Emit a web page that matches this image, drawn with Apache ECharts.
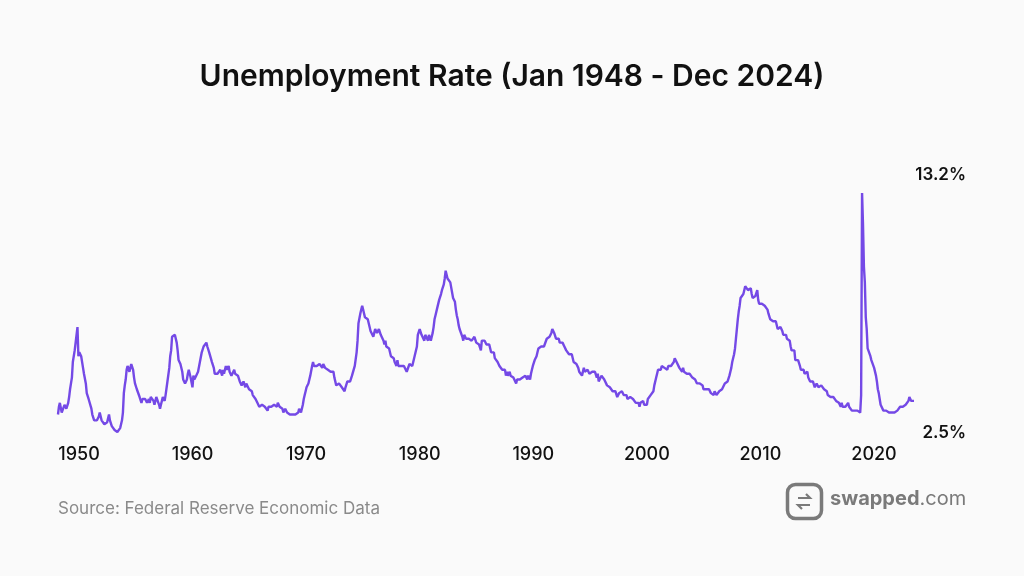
<!DOCTYPE html>
<html>
<head>
<meta charset="utf-8">
<script src="https://cdn.jsdelivr.net/npm/echarts@6/dist/echarts.min.js"></script>
<style>
html,body{margin:0;padding:0;background:#fafafa;}
#c{width:1024px;height:576px;}
</style>
</head>
<body>
<div id="c"></div>
<script>
// Monthly US unemployment rate (%), Jan 1948 - Dec 2024
const startYear = 1948;
const endYear = 2024;
const rates = [
3.4,3.8,4.0,3.9,3.5,3.6,3.6,3.9,3.8,3.7,3.8,4.0,
4.3,4.7,5.0,5.3,6.1,6.2,6.7,6.8,6.6,7.9,6.4,6.6,
6.5,6.4,6.3,5.8,5.5,5.4,5.0,4.5,4.4,4.2,4.2,4.3,
3.7,3.4,3.4,3.1,3.0,3.2,3.1,3.1,3.3,3.5,3.5,3.1,
3.2,3.1,2.9,2.9,3.0,3.0,3.2,3.4,3.1,3.0,2.8,2.7,
2.9,2.6,2.6,2.7,2.5,2.5,2.6,2.7,2.9,3.1,3.5,4.5,
4.9,5.2,5.7,5.9,5.9,5.6,5.8,6.0,6.1,5.7,5.3,5.0,
4.9,4.7,4.6,4.7,4.3,4.2,4.0,4.2,4.1,4.3,4.2,4.2,
4.0,3.9,4.2,4.0,4.3,4.3,4.4,4.1,3.9,3.9,4.3,4.2,
4.2,3.9,3.7,3.9,4.1,4.3,4.2,4.1,4.4,4.5,5.1,5.2,
5.8,6.4,6.7,7.4,7.4,7.3,7.5,7.4,7.1,6.7,6.2,6.2,
6.0,5.9,5.6,5.2,5.1,5.0,5.1,5.2,5.5,5.7,5.8,5.3,
5.2,4.8,5.4,5.2,5.1,5.4,5.5,5.6,5.5,6.1,6.1,6.6,
6.6,6.9,6.9,7.0,7.1,6.9,7.0,6.6,6.7,6.5,6.1,6.0,
5.8,5.5,5.6,5.6,5.5,5.5,5.4,5.7,5.6,5.4,5.7,5.5,
5.7,5.9,5.7,5.7,5.9,5.6,5.6,5.4,5.5,5.5,5.7,5.5,
5.6,5.4,5.4,5.3,5.1,5.2,4.9,5.0,5.1,5.1,4.8,5.0,
4.9,5.1,4.7,4.8,4.6,4.6,4.4,4.4,4.3,4.2,4.1,4.0,
4.0,3.8,3.8,3.8,3.9,3.8,3.8,3.8,3.7,3.7,3.6,3.8,
3.9,3.8,3.8,3.8,3.8,3.9,3.8,3.8,3.8,4.0,3.9,3.8,
3.7,3.8,3.7,3.5,3.5,3.7,3.7,3.5,3.4,3.4,3.4,3.4,
3.4,3.4,3.4,3.4,3.4,3.5,3.5,3.5,3.7,3.7,3.5,3.5,
3.9,4.2,4.4,4.6,4.8,4.9,5.0,5.1,5.4,5.5,5.9,6.1,
5.9,5.9,6.0,5.9,5.9,5.9,6.0,6.1,6.0,5.8,6.0,6.0,
5.8,5.7,5.8,5.7,5.7,5.7,5.6,5.6,5.5,5.6,5.3,5.2,
4.9,5.0,4.9,5.0,4.9,4.9,4.8,4.8,4.8,4.6,4.8,4.9,
5.1,5.2,5.1,5.1,5.1,5.4,5.5,5.5,5.9,6.0,6.6,7.2,
8.1,8.1,8.6,8.8,9.0,8.8,8.6,8.4,8.4,8.4,8.3,8.2,
7.9,7.7,7.6,7.7,7.4,7.6,7.8,7.8,7.6,7.7,7.8,7.8,
7.5,7.6,7.4,7.2,7.0,7.2,6.9,7.0,6.8,6.8,6.8,6.4,
6.4,6.3,6.3,6.1,6.0,5.9,6.2,5.9,6.0,5.8,5.9,6.0,
5.9,5.9,5.8,5.8,5.6,5.7,5.7,6.0,5.9,6.0,5.9,6.0,
6.3,6.3,6.3,6.9,7.5,7.6,7.8,7.7,7.5,7.5,7.5,7.2,
7.5,7.4,7.4,7.2,7.5,7.5,7.2,7.4,7.6,7.9,8.3,8.5,
8.6,8.9,9.0,9.3,9.4,9.6,9.8,9.8,10.1,10.4,10.8,10.8,
10.4,10.4,10.3,10.2,10.1,10.1,9.4,9.5,9.2,8.8,8.5,8.3,
8.0,7.8,7.8,7.7,7.4,7.2,7.5,7.5,7.3,7.4,7.2,7.3,
7.3,7.2,7.2,7.3,7.2,7.4,7.4,7.1,7.1,7.1,7.0,7.0,
6.7,7.2,7.2,7.1,7.2,7.2,7.0,6.9,7.0,7.0,6.9,6.6,
6.6,6.6,6.6,6.3,6.3,6.2,6.1,6.0,5.9,6.0,5.8,5.7,
5.7,5.7,5.7,5.4,5.6,5.4,5.4,5.6,5.4,5.4,5.3,5.3,
5.4,5.2,5.0,5.2,5.2,5.3,5.2,5.2,5.3,5.3,5.4,5.4,
5.4,5.3,5.2,5.4,5.4,5.2,5.5,5.7,5.9,5.9,6.2,6.3,
6.4,6.6,6.8,6.7,6.9,6.9,6.8,6.9,6.9,7.0,7.0,7.3,
7.3,7.4,7.4,7.4,7.6,7.8,7.7,7.6,7.6,7.3,7.4,7.4,
7.3,7.1,7.0,7.1,7.1,7.0,6.9,6.8,6.7,6.8,6.6,6.5,
6.6,6.6,6.5,6.4,6.1,6.1,6.1,6.0,5.9,5.8,5.6,5.5,
5.6,5.4,5.4,5.8,5.6,5.6,5.7,5.7,5.6,5.5,5.6,5.6,
5.6,5.5,5.5,5.6,5.6,5.3,5.5,5.1,5.2,5.2,5.4,5.4,
5.3,5.2,5.2,5.1,4.9,5.0,4.9,4.8,4.9,4.7,4.6,4.7,
4.6,4.6,4.7,4.3,4.4,4.5,4.5,4.5,4.6,4.5,4.4,4.4,
4.3,4.4,4.2,4.3,4.2,4.3,4.3,4.2,4.2,4.1,4.1,4.0,
4.0,4.1,4.0,3.8,4.0,4.0,4.0,4.1,3.9,3.9,3.9,3.9,
4.2,4.2,4.3,4.4,4.3,4.5,4.6,4.9,5.0,5.3,5.5,5.7,
5.7,5.7,5.7,5.9,5.8,5.8,5.8,5.7,5.7,5.7,5.9,6.0,
5.8,5.9,5.9,6.0,6.1,6.3,6.2,6.1,6.1,6.0,5.8,5.7,
5.7,5.6,5.8,5.6,5.6,5.6,5.5,5.4,5.4,5.5,5.4,5.4,
5.3,5.4,5.2,5.2,5.1,5.0,5.0,4.9,5.0,5.0,5.0,4.9,
4.7,4.8,4.7,4.7,4.6,4.6,4.7,4.7,4.5,4.4,4.5,4.4,
4.6,4.5,4.4,4.5,4.4,4.6,4.7,4.6,4.7,4.7,4.7,5.0,
5.0,4.9,5.1,5.0,5.4,5.6,5.8,6.1,6.1,6.5,6.8,7.3,
7.8,8.3,8.7,9.0,9.4,9.5,9.5,9.6,9.8,10.0,9.9,9.9,
9.8,9.8,9.9,9.9,9.6,9.4,9.4,9.5,9.5,9.4,9.8,9.3,
9.1,9.0,9.0,9.1,9.0,9.1,9.0,9.0,9.0,8.8,8.6,8.5,
8.3,8.3,8.2,8.2,8.2,8.2,8.2,8.1,7.8,7.8,7.7,7.9,
8.0,7.7,7.5,7.6,7.5,7.5,7.3,7.2,7.2,7.2,6.9,6.7,
6.6,6.7,6.7,6.2,6.3,6.1,6.2,6.1,5.9,5.7,5.8,5.6,
5.7,5.5,5.4,5.4,5.6,5.3,5.2,5.1,5.0,5.0,5.1,5.0,
4.8,4.9,5.0,5.1,4.8,4.9,4.8,4.9,5.0,4.9,4.7,4.7,
4.7,4.6,4.4,4.4,4.4,4.3,4.3,4.4,4.3,4.2,4.2,4.1,
4.0,4.1,4.0,4.0,3.8,4.0,3.8,3.8,3.7,3.8,3.8,3.9,
4.0,3.8,3.8,3.7,3.6,3.6,3.7,3.6,3.5,3.6,3.6,3.6,
3.6,3.5,4.4,14.8,13.2,11.0,10.2,8.4,7.8,6.8,6.7,6.7,
6.4,6.2,6.1,6.1,5.8,5.9,5.4,5.1,4.7,4.5,4.2,3.9,
4.0,3.8,3.6,3.7,3.6,3.6,3.5,3.6,3.5,3.6,3.6,3.5,
3.5,3.6,3.5,3.4,3.6,3.6,3.5,3.7,3.8,3.9,3.7,3.8,
3.7,3.9,3.9,3.9,4.0,4.1,4.3,4.2,4.1,4.1,4.2,4.1
];
const decadeLabels = ['1950','1960','1970','1980','1990','2000','2010','2020'];
const edgeLabels = ['13.2%', '2.5%'];
const titleText = 'Unemployment Rate (Jan 1948 - Dec 2024)';
const sourceText = 'Source: Federal Reserve Economic Data';

const months = [];
for (let y = startYear; y <= endYear; y++) {
  for (let m = 1; m <= 12; m++) months.push(y + '-' + (m < 10 ? '0' + m : m));
}

const chart = echarts.init(document.getElementById('c'), null, {renderer: 'canvas'});
const FONT = 'Inter, "Noto Sans", sans-serif';
const lineColor = '#7449E6';

chart.setOption({
  backgroundColor: '#fafafa',
  animation: false,
  title: {
    text: titleText,
    left: 'center',
    top: 57,
    textStyle: {fontFamily: FONT, fontSize: 30, fontWeight: 600, color: '#111111'}
  },
  grid: [
    {left: 58, right: 110, top: 193, bottom: 144},
    {left: 79, right: 150, top: 193, bottom: 144}
  ],
  xAxis: [
    {type: 'category', gridIndex: 0, data: months, boundaryGap: false, show: false},
    {type: 'category', gridIndex: 1, data: decadeLabels, boundaryGap: false,
     axisLine: {show: false}, axisTick: {show: false}, splitLine: {show: false},
     axisLabel: {interval: 0, margin: 14, fontFamily: FONT, fontSize: 18, fontWeight: 500, color: '#111111'}}
  ],
  yAxis: [
    {type: 'value', gridIndex: 0, min: 2.5, max: 14.8, show: false},
    {type: 'value', gridIndex: 1, min: 0, max: 1, show: false}
  ],
  series: [{
    type: 'line',
    xAxisIndex: 0, yAxisIndex: 0,
    data: rates,
    showSymbol: false,
    symbol: 'none',
    lineStyle: {color: lineColor, width: 2.4},
    itemStyle: {color: lineColor}
  }],
  graphic: [
    {type: 'text', right: 1024 - 966, top: 166,
     style: {text: edgeLabels[0], fontFamily: FONT, fontSize: 17, fontWeight: 600, fill: '#111111'}},
    {type: 'text', right: 1024 - 966, top: 424,
     style: {text: edgeLabels[1], fontFamily: FONT, fontSize: 17, fontWeight: 600, fill: '#111111'}},
    {type: 'text', left: 58, top: 500,
     style: {text: sourceText, fontFamily: FONT, fontSize: 17, fontWeight: 400, fill: '#8a8a8a'}},
    {type: 'group', left: 785, top: 482, children: [
      {type: 'rect', shape: {x: 1.5, y: 1.5, width: 34, height: 34, r: 8},
       style: {fill: 'none', stroke: '#7a7a7a', lineWidth: 3.5}},
      {type: 'polyline', shape: {points: [[12, 15], [24, 15], [20, 11]]},
       style: {fill: 'none', stroke: '#7a7a7a', lineWidth: 2.2}},
      {type: 'polyline', shape: {points: [[24, 22], [12, 22], [16, 26]]},
       style: {fill: 'none', stroke: '#7a7a7a', lineWidth: 2.2}}
    ]},
    {type: 'text', left: 830, top: 489,
     style: {
       rich: {
         b: {fontFamily: FONT, fontSize: 20, fontWeight: 700, fill: '#7a7a7a'},
         r: {fontFamily: FONT, fontSize: 20, fontWeight: 400, fill: '#7a7a7a'}
       },
       text: '{b|swapped}{r|.com}'
     }}
  ]
});
</script>
</body>
</html>
